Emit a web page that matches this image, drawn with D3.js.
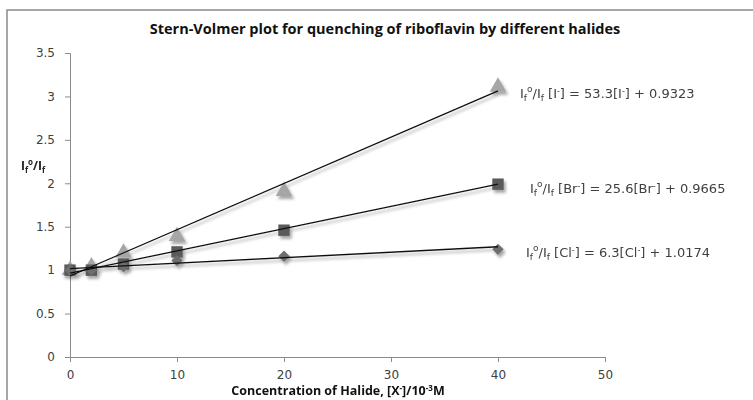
<!DOCTYPE html>
<meta charset="utf-8">
<script src="https://d3js.org/d3.v7.min.js"></script>
<style>
  body { margin: 0; background: #fff; }
  text { font-family: "DejaVu Sans", Verdana, sans-serif; }
</style>
<div id="my_dataviz"></div>
<script>

// concentrations of halide (x 10^-3 M)
var conc = [0, 2, 5, 10, 20, 40];

// I0/I values
var iodide   = [1.00, 1.04, 1.20, 1.39, 1.91, 3.11];
var bromide  = [1.00, 1.00, 1.07, 1.21, 1.46, 1.99];
var chloride = [1.00, 1.00, 1.04, 1.11, 1.16, 1.24];

// linear fit per series (slope per 10^-3 M, intercept)
var slopes = [0.0533, 0.0256, 0.0063];
var intercepts = [0.9323, 0.9665, 1.0174];
var ions = ["I", "Br", "Cl"];
var coefs = ["53.3", "25.6", "6.3"];
var consts = ["0.9323", "0.9665", "1.0174"];

var xTicks = [0, 10, 20, 30, 40, 50];
var yTicks = [0, 0.5, 1, 1.5, 2, 2.5, 3, 3.5];

var W = 753, H = 400;
var margin = {top: 53, left: 70};
var width = 535, height = 304;

var svg = d3.select("#my_dataviz").append("svg")
  .attr("width", W).attr("height", H);

// drop shadow like the spreadsheet one
var defs = svg.append("defs");
var f = defs.append("filter").attr("id", "shadow")
  .attr("x", "-50%").attr("y", "-50%").attr("width", "200%").attr("height", "200%");
f.append("feDropShadow").attr("dx", 2).attr("dy", 3).attr("stdDeviation", 1.6)
  .attr("flood-color", "#000").attr("flood-opacity", 0.35);

// chart frame
svg.append("rect")
  .attr("x", 7).attr("y", 10).attr("width", 800).attr("height", 420)
  .attr("fill", "none").attr("stroke", "#8a8a8a").attr("stroke-width", 1.5);

svg.append("text")
  .attr("x", 385).attr("y", 34)
  .attr("text-anchor", "middle")
  .style("font-family", "'Open Sans', Arial, sans-serif")
  .style("font-weight", "bold").style("font-size", "14.5px")
  .attr("fill", "#111")
  .text("Stern-Volmer plot for quenching of riboflavin by different halides");

var g = svg.append("g")
  .attr("transform", "translate(" + margin.left + "," + margin.top + ")");

var x = d3.scaleLinear().domain([0, 50]).range([0, width]);
var y = d3.scaleLinear().domain([0, 3.5]).range([height, 0]);

var xAxis = g.append("g")
  .attr("transform", "translate(0," + height + ")")
  .call(d3.axisBottom(x).tickValues(xTicks).tickSize(5).tickPadding(8).tickFormat(d3.format("d")));
var yAxis = g.append("g")
  .call(d3.axisLeft(y).tickValues(yTicks).tickSize(5).tickPadding(10).tickFormat(function(d) { return d; }));

[xAxis, yAxis].forEach(function(a) {
  a.select(".domain").attr("stroke", "#8c8c8c");
  a.selectAll(".tick line").attr("stroke", "#8c8c8c");
  a.selectAll(".tick text").attr("fill", "#404040")
    .style("font-family", "'DejaVu Sans', Verdana, sans-serif").style("font-size", "12px");
});

// axis titles
var xt = svg.append("text")
  .attr("x", 338).attr("y", 395)
  .attr("text-anchor", "middle")
  .style("font-family", "'Open Sans', Arial, sans-serif")
  .style("font-weight", "bold").style("font-size", "12.5px")
  .attr("fill", "#111");
xt.append("tspan").text("Concentration of Halide, [X");
xt.append("tspan").attr("dy", -4).style("font-size", "8px").text("-");
xt.append("tspan").attr("dy", 4).text("]/10");
xt.append("tspan").attr("dy", -4).style("font-size", "8px").text("-3");
xt.append("tspan").attr("dy", 4).text("M");

var yt = svg.append("text")
  .attr("x", 21).attr("y", 170)
  .style("font-family", "'Open Sans', Arial, sans-serif")
  .style("font-weight", "bold").style("font-size", "12px")
  .attr("fill", "#222");
yt.append("tspan").text("I");
yt.append("tspan").attr("dy", 3).style("font-size", "8px").text("f");
yt.append("tspan").attr("dy", -8).style("font-size", "8px").text("o");
yt.append("tspan").attr("dy", 5).text("/I");
yt.append("tspan").attr("dy", 3).style("font-size", "8px").text("f");

// series
var series = [
  {name: "I", vals: iodide, color: "#a6a6a6", sym: d3.symbolTriangle, size: 120, rot: 0},
  {name: "Br", vals: bromide, color: "#5a5a5a", sym: d3.symbolSquare, size: 130, rot: 0},
  {name: "Cl", vals: chloride, color: "#6e6e6e", sym: d3.symbolSquare, size: 64, rot: 45}
];

var plot = g.append("g").attr("filter", "url(#shadow)");

series.forEach(function(s) {
  plot.selectAll(null)
    .data(conc.map(function(c, i) { return {c: c, v: s.vals[i]}; }))
    .enter().append("path")
      .attr("d", d3.symbol().type(s.sym).size(s.size))
      .attr("transform", function(d) { return "translate(" + x(d.c) + "," + y(d.v) + ") rotate(" + s.rot + ")"; })
      .attr("fill", s.color);
});

// trend lines, drawn from 0 to the last concentration
var line = d3.line().x(function(d) { return x(d[0]); }).y(function(d) { return y(d[1]); });
slopes.forEach(function(m, i) {
  var b = intercepts[i];
  plot.append("path")
    .attr("d", line([[0, b], [40, b + m * 40]]))
    .attr("stroke", "#111").attr("stroke-width", 1.3).attr("fill", "none");
});

// equation labels
var labelPos = [[520, 98], [530, 193], [526, 257]];
ions.forEach(function(ion, i) {
  var t = svg.append("text")
    .attr("x", labelPos[i][0]).attr("y", labelPos[i][1])
    .style("font-family", "'DejaVu Sans', Verdana, sans-serif")
    .style("font-size", "13px").attr("fill", "#404040");
  t.append("tspan").text("I");
  t.append("tspan").attr("dy", 3).style("font-size", "9px").text("f");
  t.append("tspan").attr("dy", -9).style("font-size", "9px").text("o");
  t.append("tspan").attr("dy", 6).text("/I");
  t.append("tspan").attr("dy", 3).style("font-size", "9px").text("f");
  t.append("tspan").attr("dy", -3).text(" [" + ion);
  t.append("tspan").attr("dy", -4).style("font-size", "8px").text("-");
  t.append("tspan").attr("dy", 4).text("] = " + coefs[i] + "[" + ion);
  t.append("tspan").attr("dy", -4).style("font-size", "8px").text("-");
  t.append("tspan").attr("dy", 4).text("] + " + consts[i]);
});

</script>
